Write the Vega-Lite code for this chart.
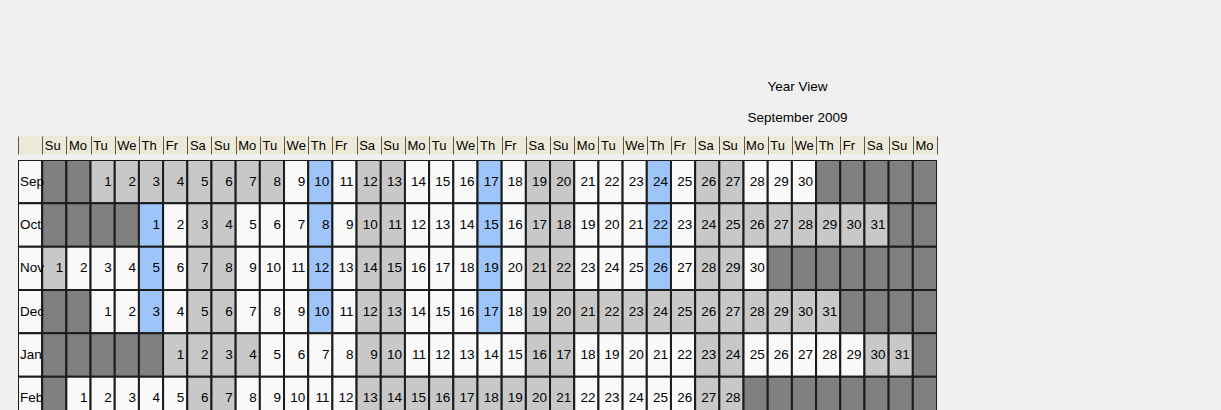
{
  "$schema": "https://vega.github.io/schema/vega-lite/v6.json",
  "autosize": {"type": "none"},
  "width": 919,
  "height": 250,
  "padding": {"left": 18, "top": 160, "right": 284, "bottom": 0},
  "background": "#f0f0f0",
  "config": {"view": {"stroke": null}},
  "title": {
    "text": "Year View",
    "subtitle": "September 2009",
    "anchor": "end",
    "align": "center",
    "dx": -140,
    "offset": 11,
    "subtitlePadding": 18,
    "font": "Liberation Sans",
    "fontSize": 13.5,
    "fontWeight": "normal",
    "color": "#000000",
    "subtitleFont": "Liberation Sans",
    "subtitleFontSize": 13.5,
    "subtitleColor": "#000000"
  },
  "data": {
    "values": [
      {"m": "Sep", "c": -1, "s": "label", "lab": "Sep"},
      {"m": "Oct", "c": -1, "s": "label", "lab": "Oct"},
      {"m": "Nov", "c": -1, "s": "label", "lab": "Nov"},
      {"m": "Dec", "c": -1, "s": "label", "lab": "Dec"},
      {"m": "Jan", "c": -1, "s": "label", "lab": "Jan"},
      {"m": "Feb", "c": -1, "s": "label", "lab": "Feb"},

      {"m": "Sep", "c": 0, "s": "out"}, {"m": "Sep", "c": 1, "s": "out"},
      {"m": "Sep", "c": 2, "d": 1, "s": "off"}, {"m": "Sep", "c": 3, "d": 2, "s": "off"},
      {"m": "Sep", "c": 4, "d": 3, "s": "off"}, {"m": "Sep", "c": 5, "d": 4, "s": "off"},
      {"m": "Sep", "c": 6, "d": 5, "s": "off"}, {"m": "Sep", "c": 7, "d": 6, "s": "off"},
      {"m": "Sep", "c": 8, "d": 7, "s": "off"}, {"m": "Sep", "c": 9, "d": 8, "s": "off"},
      {"m": "Sep", "c": 10, "d": 9, "s": "open"}, {"m": "Sep", "c": 11, "d": 10, "s": "svc"},
      {"m": "Sep", "c": 12, "d": 11, "s": "open"}, {"m": "Sep", "c": 13, "d": 12, "s": "off"},
      {"m": "Sep", "c": 14, "d": 13, "s": "off"}, {"m": "Sep", "c": 15, "d": 14, "s": "open"},
      {"m": "Sep", "c": 16, "d": 15, "s": "open"}, {"m": "Sep", "c": 17, "d": 16, "s": "open"},
      {"m": "Sep", "c": 18, "d": 17, "s": "svc"}, {"m": "Sep", "c": 19, "d": 18, "s": "open"},
      {"m": "Sep", "c": 20, "d": 19, "s": "off"}, {"m": "Sep", "c": 21, "d": 20, "s": "off"},
      {"m": "Sep", "c": 22, "d": 21, "s": "open"}, {"m": "Sep", "c": 23, "d": 22, "s": "open"},
      {"m": "Sep", "c": 24, "d": 23, "s": "open"}, {"m": "Sep", "c": 25, "d": 24, "s": "svc"},
      {"m": "Sep", "c": 26, "d": 25, "s": "open"}, {"m": "Sep", "c": 27, "d": 26, "s": "off"},
      {"m": "Sep", "c": 28, "d": 27, "s": "off"}, {"m": "Sep", "c": 29, "d": 28, "s": "open"},
      {"m": "Sep", "c": 30, "d": 29, "s": "open"}, {"m": "Sep", "c": 31, "d": 30, "s": "open"},
      {"m": "Sep", "c": 32, "s": "out"}, {"m": "Sep", "c": 33, "s": "out"}, {"m": "Sep", "c": 34, "s": "out"},
      {"m": "Sep", "c": 35, "s": "out"}, {"m": "Sep", "c": 36, "s": "out"},

      {"m": "Oct", "c": 0, "s": "out"}, {"m": "Oct", "c": 1, "s": "out"}, {"m": "Oct", "c": 2, "s": "out"}, {"m": "Oct", "c": 3, "s": "out"},
      {"m": "Oct", "c": 4, "d": 1, "s": "svc"}, {"m": "Oct", "c": 5, "d": 2, "s": "open"},
      {"m": "Oct", "c": 6, "d": 3, "s": "off"}, {"m": "Oct", "c": 7, "d": 4, "s": "off"},
      {"m": "Oct", "c": 8, "d": 5, "s": "open"}, {"m": "Oct", "c": 9, "d": 6, "s": "open"},
      {"m": "Oct", "c": 10, "d": 7, "s": "open"}, {"m": "Oct", "c": 11, "d": 8, "s": "svc"},
      {"m": "Oct", "c": 12, "d": 9, "s": "open"}, {"m": "Oct", "c": 13, "d": 10, "s": "off"},
      {"m": "Oct", "c": 14, "d": 11, "s": "off"}, {"m": "Oct", "c": 15, "d": 12, "s": "open"},
      {"m": "Oct", "c": 16, "d": 13, "s": "open"}, {"m": "Oct", "c": 17, "d": 14, "s": "open"},
      {"m": "Oct", "c": 18, "d": 15, "s": "svc"}, {"m": "Oct", "c": 19, "d": 16, "s": "open"},
      {"m": "Oct", "c": 20, "d": 17, "s": "off"}, {"m": "Oct", "c": 21, "d": 18, "s": "off"},
      {"m": "Oct", "c": 22, "d": 19, "s": "open"}, {"m": "Oct", "c": 23, "d": 20, "s": "open"},
      {"m": "Oct", "c": 24, "d": 21, "s": "open"}, {"m": "Oct", "c": 25, "d": 22, "s": "svc"},
      {"m": "Oct", "c": 26, "d": 23, "s": "open"}, {"m": "Oct", "c": 27, "d": 24, "s": "off"},
      {"m": "Oct", "c": 28, "d": 25, "s": "off"}, {"m": "Oct", "c": 29, "d": 26, "s": "off"},
      {"m": "Oct", "c": 30, "d": 27, "s": "off"}, {"m": "Oct", "c": 31, "d": 28, "s": "off"},
      {"m": "Oct", "c": 32, "d": 29, "s": "off"}, {"m": "Oct", "c": 33, "d": 30, "s": "off"},
      {"m": "Oct", "c": 34, "d": 31, "s": "off"},
      {"m": "Oct", "c": 35, "s": "out"}, {"m": "Oct", "c": 36, "s": "out"},

      {"m": "Nov", "c": 0, "d": 1, "s": "off"}, {"m": "Nov", "c": 1, "d": 2, "s": "open"},
      {"m": "Nov", "c": 2, "d": 3, "s": "open"}, {"m": "Nov", "c": 3, "d": 4, "s": "open"},
      {"m": "Nov", "c": 4, "d": 5, "s": "svc"}, {"m": "Nov", "c": 5, "d": 6, "s": "open"},
      {"m": "Nov", "c": 6, "d": 7, "s": "off"}, {"m": "Nov", "c": 7, "d": 8, "s": "off"},
      {"m": "Nov", "c": 8, "d": 9, "s": "open"}, {"m": "Nov", "c": 9, "d": 10, "s": "open"},
      {"m": "Nov", "c": 10, "d": 11, "s": "open"}, {"m": "Nov", "c": 11, "d": 12, "s": "svc"},
      {"m": "Nov", "c": 12, "d": 13, "s": "open"}, {"m": "Nov", "c": 13, "d": 14, "s": "off"},
      {"m": "Nov", "c": 14, "d": 15, "s": "off"}, {"m": "Nov", "c": 15, "d": 16, "s": "open"},
      {"m": "Nov", "c": 16, "d": 17, "s": "open"}, {"m": "Nov", "c": 17, "d": 18, "s": "open"},
      {"m": "Nov", "c": 18, "d": 19, "s": "svc"}, {"m": "Nov", "c": 19, "d": 20, "s": "open"},
      {"m": "Nov", "c": 20, "d": 21, "s": "off"}, {"m": "Nov", "c": 21, "d": 22, "s": "off"},
      {"m": "Nov", "c": 22, "d": 23, "s": "open"}, {"m": "Nov", "c": 23, "d": 24, "s": "open"},
      {"m": "Nov", "c": 24, "d": 25, "s": "open"}, {"m": "Nov", "c": 25, "d": 26, "s": "svc"},
      {"m": "Nov", "c": 26, "d": 27, "s": "open"}, {"m": "Nov", "c": 27, "d": 28, "s": "off"},
      {"m": "Nov", "c": 28, "d": 29, "s": "off"}, {"m": "Nov", "c": 29, "d": 30, "s": "open"},
      {"m": "Nov", "c": 30, "s": "out"}, {"m": "Nov", "c": 31, "s": "out"}, {"m": "Nov", "c": 32, "s": "out"},
      {"m": "Nov", "c": 33, "s": "out"}, {"m": "Nov", "c": 34, "s": "out"}, {"m": "Nov", "c": 35, "s": "out"},
      {"m": "Nov", "c": 36, "s": "out"},

      {"m": "Dec", "c": 0, "s": "out"}, {"m": "Dec", "c": 1, "s": "out"},
      {"m": "Dec", "c": 2, "d": 1, "s": "open"}, {"m": "Dec", "c": 3, "d": 2, "s": "open"},
      {"m": "Dec", "c": 4, "d": 3, "s": "svc"}, {"m": "Dec", "c": 5, "d": 4, "s": "open"},
      {"m": "Dec", "c": 6, "d": 5, "s": "off"}, {"m": "Dec", "c": 7, "d": 6, "s": "off"},
      {"m": "Dec", "c": 8, "d": 7, "s": "open"}, {"m": "Dec", "c": 9, "d": 8, "s": "open"},
      {"m": "Dec", "c": 10, "d": 9, "s": "open"}, {"m": "Dec", "c": 11, "d": 10, "s": "svc"},
      {"m": "Dec", "c": 12, "d": 11, "s": "open"}, {"m": "Dec", "c": 13, "d": 12, "s": "off"},
      {"m": "Dec", "c": 14, "d": 13, "s": "off"}, {"m": "Dec", "c": 15, "d": 14, "s": "open"},
      {"m": "Dec", "c": 16, "d": 15, "s": "open"}, {"m": "Dec", "c": 17, "d": 16, "s": "open"},
      {"m": "Dec", "c": 18, "d": 17, "s": "svc"}, {"m": "Dec", "c": 19, "d": 18, "s": "open"},
      {"m": "Dec", "c": 20, "d": 19, "s": "off"}, {"m": "Dec", "c": 21, "d": 20, "s": "off"},
      {"m": "Dec", "c": 22, "d": 21, "s": "off"}, {"m": "Dec", "c": 23, "d": 22, "s": "off"},
      {"m": "Dec", "c": 24, "d": 23, "s": "off"}, {"m": "Dec", "c": 25, "d": 24, "s": "off"},
      {"m": "Dec", "c": 26, "d": 25, "s": "off"}, {"m": "Dec", "c": 27, "d": 26, "s": "off"},
      {"m": "Dec", "c": 28, "d": 27, "s": "off"}, {"m": "Dec", "c": 29, "d": 28, "s": "off"},
      {"m": "Dec", "c": 30, "d": 29, "s": "off"}, {"m": "Dec", "c": 31, "d": 30, "s": "off"},
      {"m": "Dec", "c": 32, "d": 31, "s": "off"},
      {"m": "Dec", "c": 33, "s": "out"}, {"m": "Dec", "c": 34, "s": "out"}, {"m": "Dec", "c": 35, "s": "out"},
      {"m": "Dec", "c": 36, "s": "out"},

      {"m": "Jan", "c": 0, "s": "out"}, {"m": "Jan", "c": 1, "s": "out"}, {"m": "Jan", "c": 2, "s": "out"},
      {"m": "Jan", "c": 3, "s": "out"}, {"m": "Jan", "c": 4, "s": "out"},
      {"m": "Jan", "c": 5, "d": 1, "s": "off"}, {"m": "Jan", "c": 6, "d": 2, "s": "off"},
      {"m": "Jan", "c": 7, "d": 3, "s": "off"}, {"m": "Jan", "c": 8, "d": 4, "s": "off"},
      {"m": "Jan", "c": 9, "d": 5, "s": "open"}, {"m": "Jan", "c": 10, "d": 6, "s": "open"},
      {"m": "Jan", "c": 11, "d": 7, "s": "open"}, {"m": "Jan", "c": 12, "d": 8, "s": "open"},
      {"m": "Jan", "c": 13, "d": 9, "s": "off"}, {"m": "Jan", "c": 14, "d": 10, "s": "off"},
      {"m": "Jan", "c": 15, "d": 11, "s": "open"}, {"m": "Jan", "c": 16, "d": 12, "s": "open"},
      {"m": "Jan", "c": 17, "d": 13, "s": "open"}, {"m": "Jan", "c": 18, "d": 14, "s": "open"},
      {"m": "Jan", "c": 19, "d": 15, "s": "open"}, {"m": "Jan", "c": 20, "d": 16, "s": "off"},
      {"m": "Jan", "c": 21, "d": 17, "s": "off"}, {"m": "Jan", "c": 22, "d": 18, "s": "open"},
      {"m": "Jan", "c": 23, "d": 19, "s": "open"}, {"m": "Jan", "c": 24, "d": 20, "s": "open"},
      {"m": "Jan", "c": 25, "d": 21, "s": "open"}, {"m": "Jan", "c": 26, "d": 22, "s": "open"},
      {"m": "Jan", "c": 27, "d": 23, "s": "off"}, {"m": "Jan", "c": 28, "d": 24, "s": "off"},
      {"m": "Jan", "c": 29, "d": 25, "s": "open"}, {"m": "Jan", "c": 30, "d": 26, "s": "open"},
      {"m": "Jan", "c": 31, "d": 27, "s": "open"}, {"m": "Jan", "c": 32, "d": 28, "s": "open"},
      {"m": "Jan", "c": 33, "d": 29, "s": "open"}, {"m": "Jan", "c": 34, "d": 30, "s": "off"},
      {"m": "Jan", "c": 35, "d": 31, "s": "off"},
      {"m": "Jan", "c": 36, "s": "out"},

      {"m": "Feb", "c": 0, "s": "out"},
      {"m": "Feb", "c": 1, "d": 1, "s": "open"}, {"m": "Feb", "c": 2, "d": 2, "s": "open"},
      {"m": "Feb", "c": 3, "d": 3, "s": "open"}, {"m": "Feb", "c": 4, "d": 4, "s": "open"},
      {"m": "Feb", "c": 5, "d": 5, "s": "open"}, {"m": "Feb", "c": 6, "d": 6, "s": "off"},
      {"m": "Feb", "c": 7, "d": 7, "s": "off"}, {"m": "Feb", "c": 8, "d": 8, "s": "open"},
      {"m": "Feb", "c": 9, "d": 9, "s": "open"}, {"m": "Feb", "c": 10, "d": 10, "s": "open"},
      {"m": "Feb", "c": 11, "d": 11, "s": "open"}, {"m": "Feb", "c": 12, "d": 12, "s": "open"},
      {"m": "Feb", "c": 13, "d": 13, "s": "off"}, {"m": "Feb", "c": 14, "d": 14, "s": "off"},
      {"m": "Feb", "c": 15, "d": 15, "s": "off"}, {"m": "Feb", "c": 16, "d": 16, "s": "off"},
      {"m": "Feb", "c": 17, "d": 17, "s": "off"}, {"m": "Feb", "c": 18, "d": 18, "s": "off"},
      {"m": "Feb", "c": 19, "d": 19, "s": "off"}, {"m": "Feb", "c": 20, "d": 20, "s": "off"},
      {"m": "Feb", "c": 21, "d": 21, "s": "off"}, {"m": "Feb", "c": 22, "d": 22, "s": "open"},
      {"m": "Feb", "c": 23, "d": 23, "s": "open"}, {"m": "Feb", "c": 24, "d": 24, "s": "open"},
      {"m": "Feb", "c": 25, "d": 25, "s": "open"}, {"m": "Feb", "c": 26, "d": 26, "s": "open"},
      {"m": "Feb", "c": 27, "d": 27, "s": "off"}, {"m": "Feb", "c": 28, "d": 28, "s": "off"},
      {"m": "Feb", "c": 29, "s": "out"}, {"m": "Feb", "c": 30, "s": "out"}, {"m": "Feb", "c": 31, "s": "out"},
      {"m": "Feb", "c": 32, "s": "out"}, {"m": "Feb", "c": 33, "s": "out"}, {"m": "Feb", "c": 34, "s": "out"},
      {"m": "Feb", "c": 35, "s": "out"}, {"m": "Feb", "c": 36, "s": "out"}
    ]
  },
  "encoding": {
    "x": {
      "field": "c",
      "type": "ordinal",
      "scale": {
        "domain": [-1, 0, 1, 2, 3, 4, 5, 6, 7, 8, 9, 10, 11, 12, 13, 14, 15, 16, 17, 18, 19, 20, 21, 22, 23, 24, 25, 26, 27, 28, 29, 30, 31, 32, 33, 34, 35, 36],
        "paddingInner": 0,
        "paddingOuter": 0
      },
      "axis": {
        "orient": "top",
        "title": null,
        "offset": 6,
        "zindex": 1,
        "domain": false,
        "ticks": true,
        "tickBand": "extent",
        "tickSize": 18,
        "tickColor": "#5a5850",
        "tickWidth": 1,
        "labelAlign": "left",
        "labelBaseline": "middle",
        "labelOffset": -10,
        "labelPadding": -9,
        "labelAngle": 0,
        "labelFont": "Liberation Sans",
        "labelFontSize": 13,
        "labelColor": "#000000",
        "labelOverlap": false,
        "labelBound": false,
        "labelFlush": false,
        "labelExpr": "datum.value < 0 ? '' : ['Su','Mo','Tu','We','Th','Fr','Sa'][datum.value % 7]"
      }
    }
  },
  "resolve": {"scale": {"y": "independent"}},
  "layer": [
    {
      "data": {
        "values": [
          {"r": "hdr", "c": -1}, {"r": "hdr", "c": 0}, {"r": "hdr", "c": 1}, {"r": "hdr", "c": 2},
          {"r": "hdr", "c": 3}, {"r": "hdr", "c": 4}, {"r": "hdr", "c": 5}, {"r": "hdr", "c": 6},
          {"r": "hdr", "c": 7}, {"r": "hdr", "c": 8}, {"r": "hdr", "c": 9}, {"r": "hdr", "c": 10},
          {"r": "hdr", "c": 11}, {"r": "hdr", "c": 12}, {"r": "hdr", "c": 13}, {"r": "hdr", "c": 14},
          {"r": "hdr", "c": 15}, {"r": "hdr", "c": 16}, {"r": "hdr", "c": 17}, {"r": "hdr", "c": 18},
          {"r": "hdr", "c": 19}, {"r": "hdr", "c": 20}, {"r": "hdr", "c": 21}, {"r": "hdr", "c": 22},
          {"r": "hdr", "c": 23}, {"r": "hdr", "c": 24}, {"r": "hdr", "c": 25}, {"r": "hdr", "c": 26},
          {"r": "hdr", "c": 27}, {"r": "hdr", "c": 28}, {"r": "hdr", "c": 29}, {"r": "hdr", "c": 30},
          {"r": "hdr", "c": 31}, {"r": "hdr", "c": 32}, {"r": "hdr", "c": 33}, {"r": "hdr", "c": 34},
          {"r": "hdr", "c": 35}, {"r": "hdr", "c": 36}
        ]
      },
      "mark": {"type": "rect", "color": "#ece9d8", "strokeWidth": 0},
      "encoding": {
        "y": {"field": "r", "type": "nominal", "scale": {"domain": ["hdr"], "range": [-24, -6], "paddingInner": 0, "paddingOuter": 0}, "axis": null}
      }
    },
    {
      "mark": {"type": "rect", "stroke": "#1c1c1c", "strokeWidth": 2, "clip": true},
      "encoding": {
        "y": {"field": "m", "type": "ordinal", "scale": {"domain": ["Sep", "Oct", "Nov", "Dec", "Jan", "Feb"], "range": [0, 260], "paddingInner": 0, "paddingOuter": 0}, "axis": null},
        "color": {
          "field": "s",
          "type": "nominal",
          "scale": {
            "domain": ["out", "off", "open", "svc", "label"],
            "range": ["#808080", "#c8c8c8", "#f9f9f9", "#9ec5fa", "#f9f9f9"]
          },
          "legend": null
        }
      }
    },
    {
      "transform": [{"filter": "datum.d != null"}],
      "mark": {"type": "text", "align": "right", "baseline": "middle", "dx": -3, "font": "Liberation Sans", "fontSize": 13.5, "color": "#000000", "clip": true},
      "encoding": {
        "x": {"field": "c", "type": "ordinal", "bandPosition": 1},
        "y": {"field": "m", "type": "ordinal", "scale": {"domain": ["Sep", "Oct", "Nov", "Dec", "Jan", "Feb"], "range": [0, 260], "paddingInner": 0, "paddingOuter": 0}, "axis": null},
        "text": {"field": "d"}
      }
    },
    {
      "transform": [{"filter": "datum.lab != null"}],
      "mark": {"type": "text", "align": "left", "baseline": "middle", "dx": 2, "font": "Liberation Sans", "fontSize": 13.5, "color": "#000000", "clip": true},
      "encoding": {
        "x": {"field": "c", "type": "ordinal", "bandPosition": 0},
        "y": {"field": "m", "type": "ordinal", "scale": {"domain": ["Sep", "Oct", "Nov", "Dec", "Jan", "Feb"], "range": [0, 260], "paddingInner": 0, "paddingOuter": 0}, "axis": null},
        "text": {"field": "lab"}
      }
    }
  ]
}
